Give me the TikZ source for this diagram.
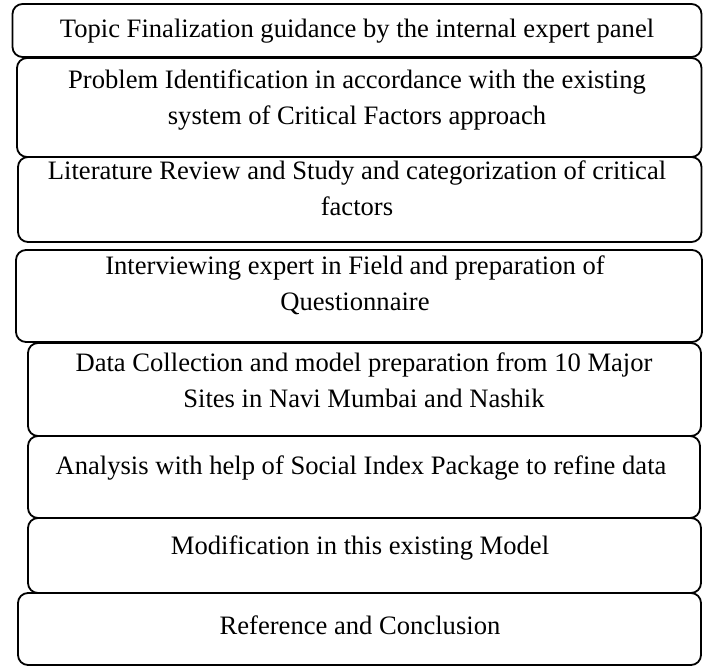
\documentclass[tikz,border=0pt]{standalone}
\usepackage{fontspec}
\setmainfont{Liberation Serif}
\begin{document}
\begin{tikzpicture}[x=1pt,y=-1pt,
  stagebox/.style={draw=black, line width=1.8pt, rounded corners=10pt, fill=white},
  stagetext/.style={align=center, font=\fontsize{26.6}{36}\selectfont, inner sep=0pt}]
\useasboundingbox (0,0) rectangle (706,666);
% stacked process stages (left, top, right, bottom)
\draw[stagebox] (12.5,4) rectangle (701.5,57) coordinate (b1);
\draw[stagebox] (17,58) rectangle (701.5,157) coordinate (b2);
\draw[stagebox] (18,157) rectangle (701.5,242) coordinate (b3);
\draw[stagebox] (16,250) rectangle (702,342) coordinate (b4);
\draw[stagebox] (28,343) rectangle (701,436) coordinate (b5);
\draw[stagebox] (28,436) rectangle (700,518) coordinate (b6);
\draw[stagebox] (28,518) rectangle (701,593) coordinate (b7);
\draw[stagebox] (18,593) rectangle (701,665) coordinate (b8);
% stage texts
\node[stagetext] (t1) at (357,31) {Topic Finalization guidance by the internal expert panel};
\node[stagetext] (t2) at (357,100) {Problem Identification in accordance with the existing\\system of Critical Factors approach};
\node[stagetext] (t3) at (357,188) {Literature Review and Study and categorization of critical\\factors};
\node[stagetext] (t4) at (355,285.5) {Interviewing expert in Field and preparation of\\Questionnaire};
\node[stagetext] (t5) at (364,380) {Data Collection and model preparation from 10 Major\\Sites in Navi Mumbai and Nashik};
\node[stagetext] (t6) at (361,468) {Analysis with help of Social Index Package to refine data};
\node[stagetext] (t7) at (360,548) {Modification in this existing Model};
\node[stagetext] (t8) at (360,625) {Reference and Conclusion};
\end{tikzpicture}
\end{document}
